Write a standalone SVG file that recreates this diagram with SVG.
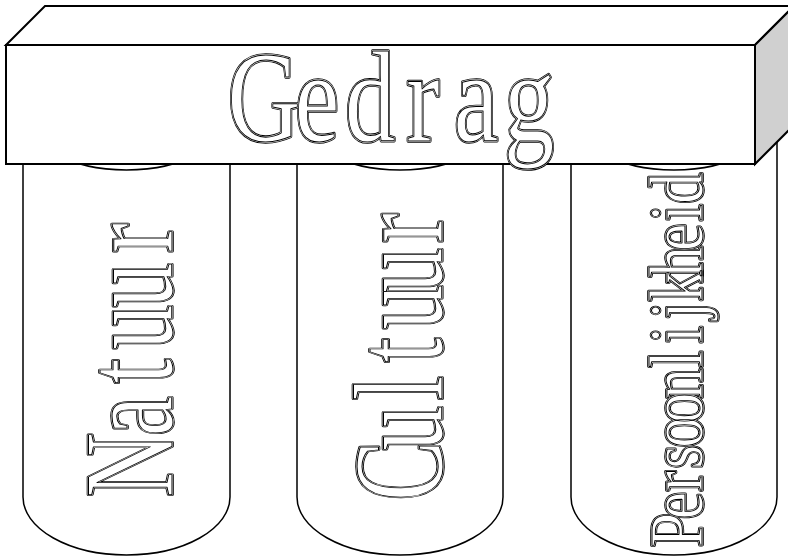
<svg xmlns="http://www.w3.org/2000/svg" xmlns:xlink="http://www.w3.org/1999/xlink" width="788" height="559" viewBox="0 0 788 559">
<style>
.pillar{fill:#ffffff;stroke:#000000;stroke-width:1.5}
.box{stroke:#000000;stroke-width:2;stroke-linejoin:miter}
.face{fill:#ffffff}
.side{fill:#d0d0d0}
.lbl{font-family:"Liberation Serif","Times New Roman",serif;text-anchor:middle}
.o1{fill:#000000;stroke:#000000;stroke-width:3.6;stroke-linejoin:round;vector-effect:non-scaling-stroke}
.o2{fill:#ffffff;stroke:#ffffff;stroke-width:1.8;stroke-linejoin:round;vector-effect:non-scaling-stroke}
.o3{fill:none;stroke:#000000;stroke-width:1;stroke-linejoin:round;vector-effect:non-scaling-stroke}
</style>
<defs>
<text id="tNatuur" class="lbl" transform="translate(172,488) rotate(-90) scale(0.7,1)" x="32.86 102.86 167.14 230 290 357.14" y="0" font-size="128">Natuur</text>
<text id="tCultuur" class="lbl" transform="translate(442,490) rotate(-90) scale(0.7,1)" x="27.14 88.57 145.71 200 261.43 314.29 374.29" y="0" font-size="128">Cultuur</text>
<text id="tPers" class="lbl" transform="translate(702,543) rotate(-90) scale(0.8,1)" x="16.25 46.75 77.25 107.75 138.25 168.75 199.25 229.75 260.25 290.75 321.25 351.75 382.25 412.75 443.25" y="0" font-size="77">Persoonlijkheid</text>
<text id="tGedrag" class="lbl" transform="scale(0.78,1)" x="338.46 406.41 474.36 542.31 610.26 678.21" y="141" font-size="130">Gedrag</text>
</defs>
<g id="connectors"></g>
<g id="natuur">
<path class="pillar" d="M23,112 L23,497 A103.5,58 0 0 0 230,497 L230,112 A103.5,58 0 0 0 23,112 Z"/>
<path class="pillar" fill="none" d="M23,112 A103.5,58 0 0 0 230,112"/>
<use xlink:href="#tNatuur" href="#tNatuur" class="o1"/>
<use xlink:href="#tNatuur" href="#tNatuur" class="o2"/>
<use xlink:href="#tNatuur" href="#tNatuur" class="o3"/>
</g>
<g id="cultuur">
<path class="pillar" d="M297,112 L297,497 A103,58 0 0 0 503,497 L503,112 A103,58 0 0 0 297,112 Z"/>
<path class="pillar" fill="none" d="M297,112 A103,58 0 0 0 503,112"/>
<use xlink:href="#tCultuur" href="#tCultuur" class="o1"/>
<use xlink:href="#tCultuur" href="#tCultuur" class="o2"/>
<use xlink:href="#tCultuur" href="#tCultuur" class="o3"/>
</g>
<g id="persoonlijkheid">
<path class="pillar" d="M571,112 L571,497 A103,58 0 0 0 777,497 L777,112 A103,58 0 0 0 571,112 Z"/>
<path class="pillar" fill="none" d="M571,112 A103,58 0 0 0 777,112"/>
<use xlink:href="#tPers" href="#tPers" class="o1"/>
<use xlink:href="#tPers" href="#tPers" class="o2"/>
<use xlink:href="#tPers" href="#tPers" class="o3"/>
</g>
<g id="gedrag">
<polygon class="box face" points="6,45 45,6 794,6 755,45"/>
<polygon class="box side" points="755,45 794,6 794,125 755,164"/>
<rect class="box face" x="6" y="45" width="749" height="119"/>
<use xlink:href="#tGedrag" href="#tGedrag" class="o1"/>
<use xlink:href="#tGedrag" href="#tGedrag" class="o2"/>
<use xlink:href="#tGedrag" href="#tGedrag" class="o3"/>
</g>
</svg>
